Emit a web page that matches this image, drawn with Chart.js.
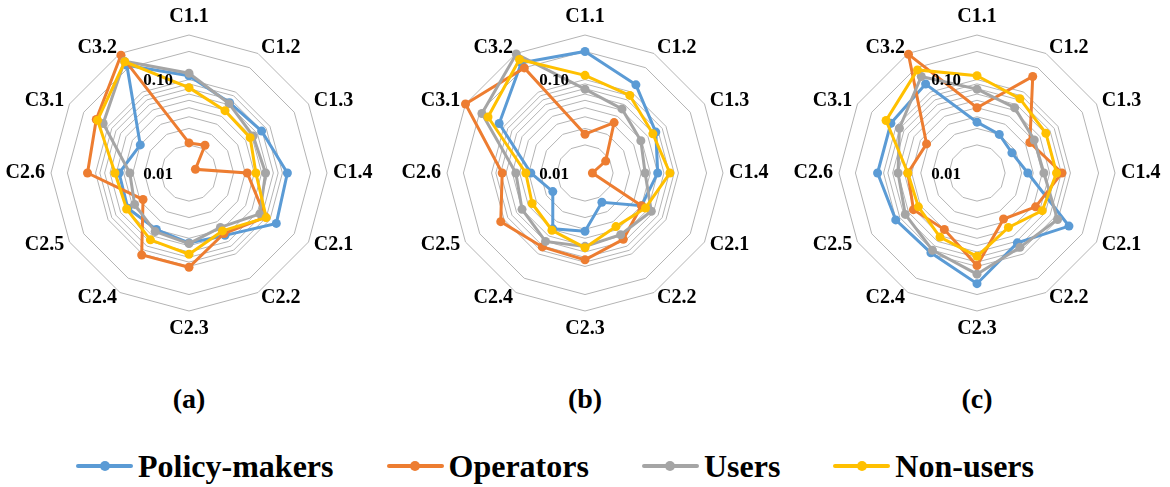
<!DOCTYPE html>
<html>
<head>
<meta charset="utf-8">
<title>Stakeholder weights by criterion</title>
<script src="https://cdn.jsdelivr.net/npm/chart.js@4.4.1/dist/chart.umd.min.js"></script>
<style>
  html, body {
    margin: 0; padding: 0; background: #fff;
    width: 1170px; height: 487px; overflow: hidden; position: relative;
    font-family: 'Liberation Serif', 'Times New Roman', serif;
  }
  canvas.radar { position: absolute; top: 0; }
  .panel-tag {
    position: absolute; top: 381px; width: 80px; margin-left: -40px;
    text-align: center; font-weight: bold; font-size: 28px; line-height: 36px; color: #000;
  }
  #legend {
    position: absolute; left: 76px; top: 444px;
    display: flex; align-items: center; gap: 53px;
    font-weight: bold; font-size: 32px; line-height: 44px; color: #000;
    white-space: nowrap;
  }
  #legend .item { display: flex; align-items: center; gap: 5px; }
  #legend .swatch { position: relative; width: 57px; height: 4px; border-radius: 2px; }
  #legend .swatch::after {
    content: ''; position: absolute; left: 50%; top: 50%;
    width: 10px; height: 10px; margin: -5px 0 0 -5px; border-radius: 50%; background: inherit;
  }
</style>
</head>
<body>
<canvas id="radarA" class="radar" width="380" height="346" style="left:-1px"></canvas>
<canvas id="radarB" class="radar" width="380" height="346" style="left:395px"></canvas>
<canvas id="radarC" class="radar" width="380" height="346" style="left:787px"></canvas>
<div class="panel-tag" style="left:189px">(a)</div>
<div class="panel-tag" style="left:585px">(b)</div>
<div class="panel-tag" style="left:977px">(c)</div>
<div id="legend"></div>

<script>
// Criteria around each radar, clockwise from the top
const categories = ['C1.1', 'C1.2', 'C1.3', 'C1.4', 'C2.1', 'C2.2', 'C2.3', 'C2.4', 'C2.5', 'C2.6', 'C3.1', 'C3.2'];
const seriesNames = ['Policy-makers', 'Operators', 'Users', 'Non-users'];
const seriesColors = ['#5B9BD5', '#ED7D31', '#A5A5A5', '#FFC000'];

// Log-scale rings (0.01 at the centre, 0.3 at the outer ring) and the ones that carry a label
const tickValues = [0.01, 0.02, 0.03, 0.04, 0.05, 0.06, 0.07, 0.08, 0.09, 0.1, 0.2, 0.3];
const labelledTicks = [0.01, 0.1];

// Panel (a)
const policyA   = [0.110, 0.074, 0.079, 0.113, 0.120, 0.059, 0.056, 0.050, 0.057, 0.056, 0.040, 0.214];
const operatorA = [0.021, 0.022, 0.012, 0.042, 0.088, 0.056, 0.102, 0.103, 0.037, 0.122, 0.140, 0.286];
const usersA    = [0.117, 0.072, 0.062, 0.066, 0.075, 0.047, 0.057, 0.053, 0.047, 0.043, 0.115, 0.240];
const nonUsersA = [0.082, 0.059, 0.057, 0.052, 0.090, 0.052, 0.074, 0.067, 0.059, 0.062, 0.135, 0.237];

// Panel (b)
const policyB   = [0.200, 0.123, 0.075, 0.060, 0.050, 0.023, 0.042, 0.049, 0.025, 0.038, 0.115, 0.230];
const operatorB = [0.026, 0.042, 0.018, 0.012, 0.050, 0.066, 0.085, 0.082, 0.110, 0.077, 0.300, 0.199];
const usersB    = [0.079, 0.062, 0.049, 0.044, 0.066, 0.058, 0.061, 0.070, 0.060, 0.055, 0.188, 0.296];
const nonUsersB = [0.111, 0.091, 0.069, 0.081, 0.056, 0.046, 0.063, 0.051, 0.045, 0.043, 0.158, 0.253];

// Panel (c)
const policyC   = [0.035, 0.030, 0.027, 0.035, 0.137, 0.073, 0.153, 0.097, 0.101, 0.116, 0.116, 0.126];
const operatorC = [0.050, 0.156, 0.045, 0.081, 0.053, 0.037, 0.098, 0.050, 0.061, 0.055, 0.042, 0.293];
const usersC    = [0.079, 0.064, 0.051, 0.052, 0.099, 0.083, 0.121, 0.090, 0.077, 0.070, 0.091, 0.156];
const nonUsersC = [0.110, 0.083, 0.071, 0.071, 0.064, 0.047, 0.078, 0.062, 0.053, 0.055, 0.133, 0.188];

const RING_RADIUS = 138;      // px from centre to the outer ring
const POINT_LABEL_GAP = 6;    // px between outer ring and criterion labels
const TICK_LABEL_GAP = 16;    // px left of the vertical spoke for value labels
const TICK_LABEL_DROP = 1.5;  // value labels sit just under their ring
const SERIF = "'Liberation Serif', 'Times New Roman', serif";

// Radial scale with logarithmic spacing between the rings
class RadialLogScale extends Chart.RadialLinearScale {
  static id = 'radialLog';

  buildTicks() {
    return tickValues.map(v => ({ value: v }));
  }

  getDistanceFromCenterForValue(value) {
    if (value === null || value === undefined || isNaN(value)) return NaN;
    const lo = Math.log10(this.min);
    const hi = Math.log10(this.max);
    const v = Math.min(Math.max(value, this.min), this.max);
    return this.drawingArea * (Math.log10(v) - lo) / (hi - lo);
  }

  getValueForDistanceFromCenter(distance) {
    const lo = Math.log10(this.min);
    const hi = Math.log10(this.max);
    return Math.pow(10, lo + (distance / this.drawingArea) * (hi - lo));
  }

  setCenterPoint() {
    this.drawingArea = RING_RADIUS;
  }

  fit() {
    super.fit();
    // Criterion labels: side labels sit level with their spoke, top/bottom ones above/below it
    const font = Chart.helpers.toFont(this.options.pointLabels.font);
    const h = font.lineHeight;
    const n = this._pointLabelItems.length;
    for (let i = 0; i < n; i++) {
      const deg = Math.round(i * 360 / n);
      const p = this.getPointPosition(i, this.drawingArea + POINT_LABEL_GAP);
      let textAlign, top;
      if (deg === 0) { textAlign = 'center'; top = p.y - h; }
      else if (deg === 180) { textAlign = 'center'; top = p.y; }
      else { textAlign = deg < 180 ? 'left' : 'right'; top = p.y - h / 2; }
      this._pointLabelItems[i] = Object.assign({}, this._pointLabelItems[i], {
        visible: true, x: p.x, y: top, textAlign,
        left: p.x - 40, right: p.x + 40, top, bottom: top + h
      });
    }
  }

  drawLabels() {
    const ctx = this.ctx;
    const tickOpts = this.options.ticks;
    const font = Chart.helpers.toFont(tickOpts.font);
    ctx.save();
    ctx.font = font.string;
    ctx.fillStyle = tickOpts.color;
    ctx.textAlign = 'right';
    ctx.textBaseline = 'middle';
    this.ticks.forEach(t => {
      if (!t.label) return;
      const d = this.getDistanceFromCenterForValue(t.value);
      ctx.fillText(t.label, this.xCenter - TICK_LABEL_GAP, this.yCenter - d + TICK_LABEL_DROP);
    });
    ctx.restore();
  }
}
Chart.register(RadialLogScale);

function makeRadar(canvasId, seriesValues) {
  const datasets = seriesValues.map((values, k) => ({
    label: seriesNames[k],
    data: values,
    borderColor: seriesColors[k],
    backgroundColor: seriesColors[k],
    pointBackgroundColor: seriesColors[k],
    pointBorderColor: seriesColors[k],
    pointBorderWidth: 0,
    pointRadius: 4.5,
    borderWidth: 3,
    fill: false,
    tension: 0,
    order: seriesValues.length - k
  }));

  return new Chart(document.getElementById(canvasId), {
    type: 'radar',
    data: { labels: categories, datasets },
    options: {
      responsive: false,
      animation: false,
      devicePixelRatio: 1,
      layout: { padding: 0 },
      plugins: { legend: { display: false }, tooltip: { enabled: false } },
      scales: {
        r: {
          type: 'radialLog',
          min: 0.01,
          max: 0.3,
          angleLines: { display: false },
          grid: { color: '#b4b4b4', lineWidth: 1, circular: false },
          ticks: {
            display: false,
            autoSkip: false,
            z: 1,
            color: '#000',
            font: { family: SERIF, weight: 'bold', size: 17 },
            callback: v => (labelledTicks.some(t => Math.abs(t - v) < 1e-9) ? v.toFixed(2) : '')
          },
          pointLabels: {
            display: true,
            color: '#000',
            font: { family: SERIF, weight: 'bold', size: 20 }
          }
        }
      }
    }
  });
}

makeRadar('radarA', [policyA, operatorA, usersA, nonUsersA]);
makeRadar('radarB', [policyB, operatorB, usersB, nonUsersB]);
makeRadar('radarC', [policyC, operatorC, usersC, nonUsersC]);

// Shared legend under the three panels
const legend = document.getElementById('legend');
seriesNames.forEach((name, k) => {
  const item = document.createElement('div');
  item.className = 'item';
  const swatch = document.createElement('span');
  swatch.className = 'swatch';
  swatch.style.background = seriesColors[k];
  const text = document.createElement('span');
  text.textContent = name;
  item.appendChild(swatch);
  item.appendChild(text);
  legend.appendChild(item);
});
</script>
</body>
</html>
